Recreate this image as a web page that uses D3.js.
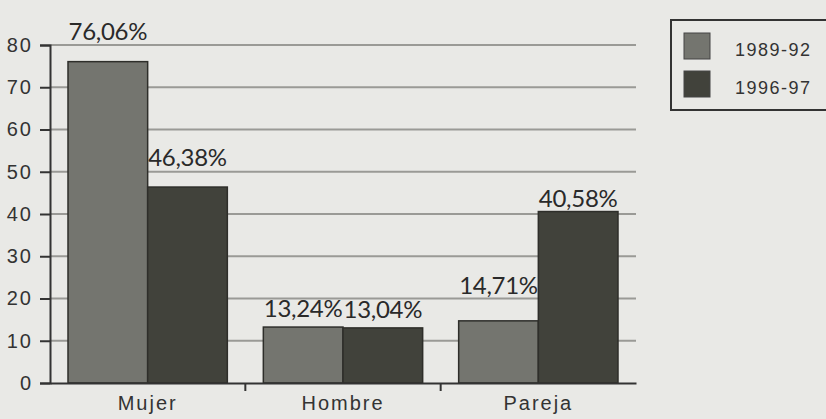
<!DOCTYPE html>
<html>
<head>
<meta charset="utf-8">
<script src="https://cdn.jsdelivr.net/npm/d3@7"></script>
<style>
  body { margin: 0; background: #e9e9e6; }
  svg { display: block; }
  .tick text { font-family: "Liberation Sans", Arial, sans-serif; font-size: 20px; letter-spacing: 2px; fill: #333; }
  .valueLabel { font-family: Lato, "Open Sans", sans-serif; font-size: 24px; letter-spacing: -0.3px; fill: #2a2a2a; }
  .legendText { font-family: "Liberation Sans", Arial, sans-serif; font-size: 18px; letter-spacing: 1.5px; fill: #333; }
</style>
</head>
<body>
<div id="chart"></div>
<script>
// data
var categories = ["Mujer", "Hombre", "Pareja"];
var seriesNames = ["1989-92", "1996-97"];
var values8992 = [76.06, 13.24, 14.71];
var values9697 = [46.38, 13.04, 40.58];
var valueLabels8992 = ["76,06%", "13,24%", "14,71%"];
var valueLabels9697 = ["46,38%", "13,04%", "40,58%"];
var yTicks = [0, 10, 20, 30, 40, 50, 60, 70, 80];

var colors = ["#74756f", "#41423b"];

// label gap above each bar (the original places them by hand)
var labelGap = [[22, 21], [10, 10], [27, 5]];

var svgWidth = 826;
var svgHeight = 419;

var svg = d3.select("#chart")
    .append("svg")
    .attr("width", svgWidth)
    .attr("height", svgHeight);

svg.append("rect")
    .attr("width", svgWidth)
    .attr("height", svgHeight)
    .attr("fill", "#e9e9e6");

// scales
var xScale = d3.scaleBand()
    .domain(categories)
    .range([50, 636]);

var xInner = d3.scaleBand()
    .domain(seriesNames)
    .range([18, xScale.bandwidth() - 18]);

var yScale = d3.scaleLinear()
    .domain([0, 80])
    .range([383, 45]);

// gridlines
svg.append("g")
    .selectAll("line")
    .data(yTicks.filter(d => d > 0))
    .enter()
    .append("line")
    .attr("x1", 50)
    .attr("x2", 636)
    .attr("y1", d => yScale(d))
    .attr("y2", d => yScale(d))
    .attr("stroke", "#9a9a96")
    .attr("stroke-width", 2);

// bars
var rows = categories.map(function(c, i) {
    return { cat: c, i: i, vals: [values8992[i], values9697[i]], labels: [valueLabels8992[i], valueLabels9697[i]] };
});

var groups = svg.append("g")
    .selectAll("g")
    .data(rows)
    .enter()
    .append("g")
    .attr("transform", d => `translate(${xScale(d.cat)},0)`);

groups.selectAll("rect")
    .data(d => d.vals.map((v, j) => ({ series: seriesNames[j], v: v, j: j })))
    .enter()
    .append("rect")
    .attr("x", d => xInner(d.series))
    .attr("y", d => yScale(d.v))
    .attr("width", xInner.bandwidth())
    .attr("height", d => yScale(0) - yScale(d.v))
    .attr("fill", d => colors[d.j])
    .attr("stroke", "#2e2e2a")
    .attr("stroke-width", 1.5);

groups.selectAll("text")
    .data(d => d.vals.map((v, j) => ({ series: seriesNames[j], v: v, label: d.labels[j], gap: labelGap[d.i][j] })))
    .enter()
    .append("text")
    .attr("class", "valueLabel")
    .attr("x", d => xInner(d.series) + xInner.bandwidth() / 2)
    .attr("y", d => yScale(d.v) - d.gap)
    .attr("text-anchor", "middle")
    .text(d => d.label);

// y axis
var leftAxis = d3.axisLeft(yScale)
    .tickValues(yTicks)
    .tickSize(10)
    .tickPadding(7);

svg.append("g")
    .attr("transform", "translate(50,0)")
    .call(leftAxis)
    .call(g => g.select(".domain").attr("stroke", "#333").attr("stroke-width", 2))
    .call(g => g.selectAll(".tick line").attr("stroke", "#333").attr("stroke-width", 2));

// x axis
var bottomAxis = d3.axisBottom(xScale)
    .tickSize(0)
    .tickPadding(13);

svg.append("g")
    .attr("transform", `translate(0,${yScale(0)})`)
    .call(bottomAxis)
    .call(g => g.select(".domain").attr("stroke", "#333").attr("stroke-width", 2));

// category separators below the axis
svg.append("g")
    .selectAll("line")
    .data(categories.slice(1))
    .enter()
    .append("line")
    .attr("x1", d => xScale(d))
    .attr("x2", d => xScale(d))
    .attr("y1", yScale(0))
    .attr("y2", yScale(0) + 8)
    .attr("stroke", "#333")
    .attr("stroke-width", 2);

// legend
var legend = svg.append("g");

legend.append("rect")
    .attr("x", 671)
    .attr("y", 20)
    .attr("width", 200)
    .attr("height", 90)
    .attr("fill", "none")
    .attr("stroke", "#333")
    .attr("stroke-width", 2);

var legendItems = legend.selectAll("g")
    .data(seriesNames)
    .enter()
    .append("g")
    .attr("transform", (d, i) => `translate(684,${33 + i * 38})`);

legendItems.append("rect")
    .attr("width", 26)
    .attr("height", 26)
    .attr("fill", (d, i) => colors[i])
    .attr("stroke", "#444")
    .attr("stroke-width", 1);

legendItems.append("text")
    .attr("class", "legendText")
    .attr("x", 51)
    .attr("y", 23)
    .text(d => d);
</script>
</body>
</html>
